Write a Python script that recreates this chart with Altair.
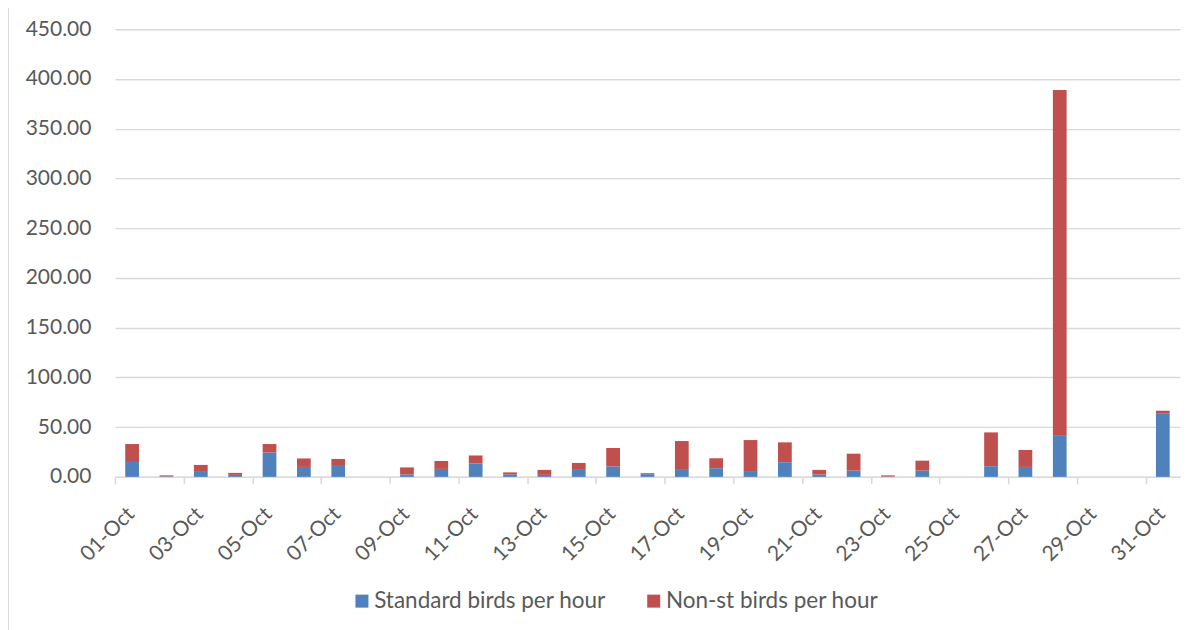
import altair as alt
import pandas as pd

days = [f"{d:02d}-Oct" for d in range(1, 32)]
standard = [15, 0.5, 5, 2, 24.5, 10, 11, 0, 2.5, 8, 13.5, 2.5, 2, 7, 10.5, 2.7,
            7, 8.7, 5, 14.7, 2.3, 6.3, 0.3, 6.3, 0, 10.7, 10, 42, 0, 0, 64]
nonst = [18, 1, 7, 2, 8.5, 8.5, 7, 0, 7, 8, 8, 2, 5, 7, 18.5, 1,
         29, 10, 32, 20, 4.7, 17, 1.2, 10, 0, 34, 17, 347, 0, 0, 2.5]
series = ["Standard birds per hour", "Non-st birds per hour"]
colors = ["#4F81BD", "#C0504D"]
y_ticks = list(range(0, 451, 50))

rows = []
for i, d in enumerate(days):
    rows.append({"day": d, "series": series[0], "value": standard[i], "k": 0})
    rows.append({"day": d, "series": series[1], "value": nonst[i], "k": 1})
df = pd.DataFrame(rows)

FONT = "Lato"
TXT = "#595959"
GRID = "#D9D9D9"
W, H = 1066, 448
HALF_STEP = W / len(days) / 2

bars = alt.Chart(df).mark_bar().encode(
    x=alt.X("day:N", sort=days, title=None,
            scale=alt.Scale(paddingInner=0.6, paddingOuter=0.3),
            axis=alt.Axis(values=days[::2], labelAngle=-45, labelAlign="right",
                          labelBaseline="top", labelPadding=19,
                          tickOffset=-HALF_STEP, labelOffset=HALF_STEP - 9,
                          tickSize=7, tickColor=GRID, tickWidth=1.5,
                          domainColor=GRID, domainWidth=1.5, grid=False,
                          labelFont=FONT, labelFontSize=21, labelColor=TXT)),
    y=alt.Y("value:Q", stack="zero", title=None,
            scale=alt.Scale(domain=[0, 450], nice=False),
            axis=alt.Axis(values=y_ticks, format=".2f", ticks=False, domain=False,
                          labelPadding=24, gridColor=GRID, gridWidth=1.4,
                          labelFont=FONT, labelFontSize=21, labelColor=TXT)),
    color=alt.Color("series:N",
                    scale=alt.Scale(domain=series, range=colors),
                    legend=alt.Legend(title=None, orient="none", direction="horizontal",
                                      legendX=236, legendY=561,
                                      symbolType="square", symbolSize=169,
                                      symbolStrokeWidth=0, labelLimit=400,
                                      labelFont=FONT, labelFontSize=22.5, labelColor=TXT,
                                      columnPadding=36, labelOffset=1, padding=0)),
    order=alt.Order("k:Q", sort="ascending"),
)

border = alt.Chart(alt.Data(values=[{}])).mark_rule(color=GRID, strokeWidth=2).encode(
    x=alt.value(-107), y=alt.value(-21), y2=alt.value(H + 160)
)

chart = alt.layer(bars, border).properties(
    width=W, height=H,
    autosize=alt.AutoSizeParams(type="none"),
    padding={"left": 107, "top": 21, "right": 10, "bottom": 153},
).configure_view(strokeWidth=0)

chart.save("out.html", embed_options={"renderer": "svg", "actions": False})
